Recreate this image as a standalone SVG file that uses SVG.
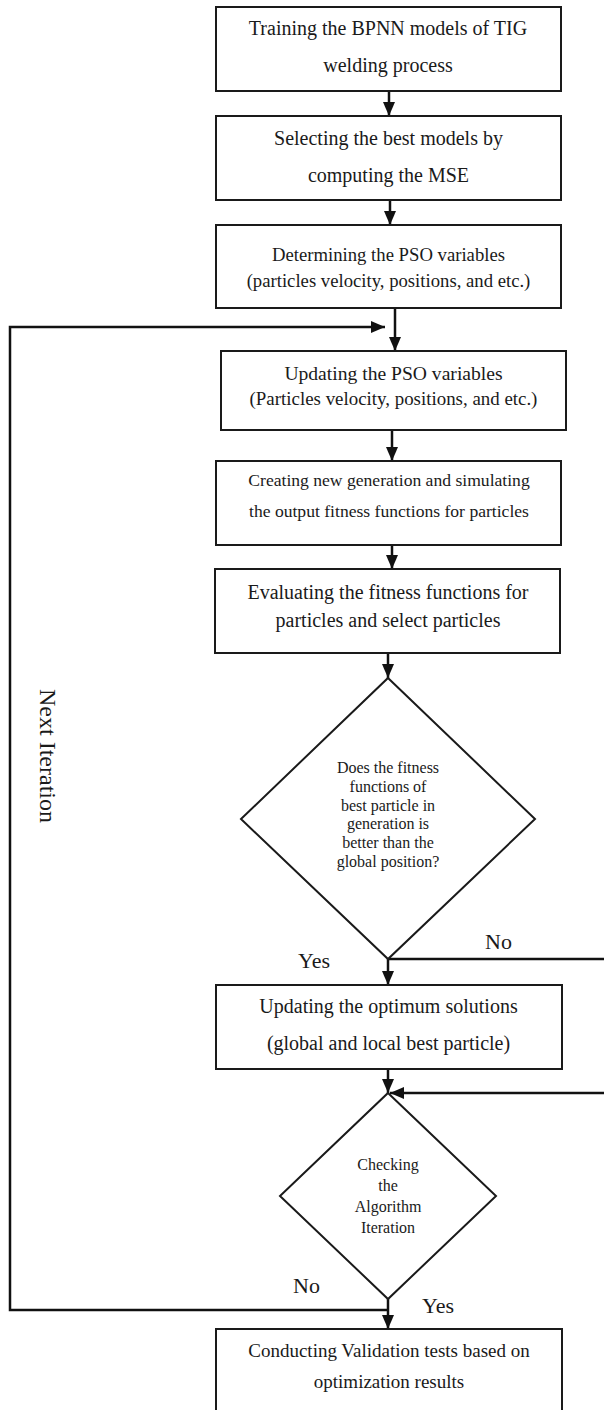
<svg xmlns="http://www.w3.org/2000/svg" width="604" height="1410" viewBox="0 0 604 1410">
<style>
.box{fill:#fff;stroke:#1a1a1a;stroke-width:2}
.t{font-family:"Liberation Serif","Times New Roman",serif;fill:#1a1a1a;text-anchor:middle}
.l{font-family:"Liberation Serif","Times New Roman",serif;fill:#1a1a1a}
.c{fill:none;stroke:#111;stroke-width:2.5}
</style>
<defs>
<marker id="ah" viewBox="0 0 14 12" refX="14" refY="6" markerWidth="14" markerHeight="12" markerUnits="userSpaceOnUse" orient="auto">
<path d="M0,0 L14,6 L0,12 Z" fill="#111"/>
</marker>
</defs>
<rect width="604" height="1410" fill="#fff"/>
<g id="connectors">
<line class="c" x1="389" y1="91" x2="389" y2="116" marker-end="url(#ah)"/>
<line class="c" x1="390" y1="200" x2="390" y2="225" marker-end="url(#ah)"/>
<line class="c" x1="395" y1="308" x2="395" y2="351" marker-end="url(#ah)"/>
<line class="c" x1="392" y1="430" x2="392" y2="461" marker-end="url(#ah)"/>
<line class="c" x1="392" y1="545" x2="392" y2="569" marker-end="url(#ah)"/>
<line class="c" x1="388" y1="653" x2="388" y2="678" marker-end="url(#ah)"/>
<line class="c" x1="388" y1="959" x2="388" y2="985" marker-end="url(#ah)"/>
<line class="c" x1="388" y1="1069" x2="388" y2="1093" marker-end="url(#ah)"/>
<line class="c" x1="388" y1="1299" x2="388" y2="1329" marker-end="url(#ah)"/>
<polyline class="c" points="388,959 606,959"/>
<line class="c" x1="606" y1="1093" x2="390" y2="1093" marker-end="url(#ah)"/>
<polyline class="c" points="388,1310 10,1310 10,327 385,327" marker-end="url(#ah)"/>
<text class="l" font-size="22" x="485" y="949">No</text>
<text class="l" font-size="22" x="298" y="968">Yes</text>
<text class="l" font-size="22" x="293" y="1293">No</text>
<text class="l" font-size="22" x="422" y="1313">Yes</text>
<text class="t" font-size="24" transform="translate(40,756) rotate(90)">Next Iteration</text>
</g>
<g id="n1">
<rect class="box" x="216" y="7" width="345" height="84"/>
<text class="t" font-size="20" x="388" y="35">Training the BPNN models of TIG</text>
<text class="t" font-size="20" x="388" y="72">welding process</text>
</g>
<g id="n2">
<rect class="box" x="216" y="116" width="345" height="84"/>
<text class="t" font-size="20" x="388.5" y="145">Selecting the best models by</text>
<text class="t" font-size="20" x="388.5" y="182">computing the MSE</text>
</g>
<g id="n3">
<rect class="box" x="216" y="225" width="345" height="83"/>
<text class="t" font-size="18.7" x="388.5" y="261">Determining the PSO variables</text>
<text class="t" font-size="18.7" x="388.5" y="287">(particles velocity, positions, and etc.)</text>
</g>
<g id="n4">
<rect class="box" x="221" y="351" width="345" height="79"/>
<text class="t" font-size="19.6" x="393.5" y="380">Updating the PSO variables</text>
<text class="t" font-size="18.9" x="393.5" y="405">(Particles velocity, positions, and etc.)</text>
</g>
<g id="n5">
<rect class="box" x="216" y="461" width="345" height="84"/>
<text class="t" font-size="17.6" x="389" y="486">Creating new generation and simulating</text>
<text class="t" font-size="17.6" x="389" y="517">the output fitness functions for particles</text>
</g>
<g id="n6">
<rect class="box" x="215" y="569" width="345" height="84"/>
<text class="t" font-size="20" x="388" y="599">Evaluating the fitness functions for</text>
<text class="t" font-size="20" x="388" y="627">particles and select particles</text>
</g>
<g id="d1">
<polygon class="box" points="388,678 535,819 388,959 241,819"/>
<text class="t" font-size="16" x="388" y="773">Does the fitness</text>
<text class="t" font-size="16" x="388" y="792">functions of</text>
<text class="t" font-size="16" x="388" y="811">best particle in</text>
<text class="t" font-size="16" x="388" y="829">generation is</text>
<text class="t" font-size="16" x="388" y="848">better than the</text>
<text class="t" font-size="16" x="388" y="867">global position?</text>
</g>
<g id="n7">
<rect class="box" x="216" y="985" width="346" height="84"/>
<text class="t" font-size="20" x="388.5" y="1013">Updating the optimum solutions</text>
<text class="t" font-size="20" x="388.5" y="1050">(global and local best particle)</text>
</g>
<g id="d2">
<polygon class="box" points="388,1093 496,1196 388,1299 280,1196"/>
<text class="t" font-size="16" x="388" y="1170">Checking</text>
<text class="t" font-size="16" x="388" y="1191">the</text>
<text class="t" font-size="16" x="388" y="1212">Algorithm</text>
<text class="t" font-size="16" x="388" y="1233">Iteration</text>
</g>
<g id="n8">
<rect class="box" x="216" y="1329" width="346" height="86"/>
<text class="t" font-size="19" x="389" y="1357">Conducting Validation tests based on</text>
<text class="t" font-size="19" x="389" y="1388">optimization results</text>
</g>
</svg>
